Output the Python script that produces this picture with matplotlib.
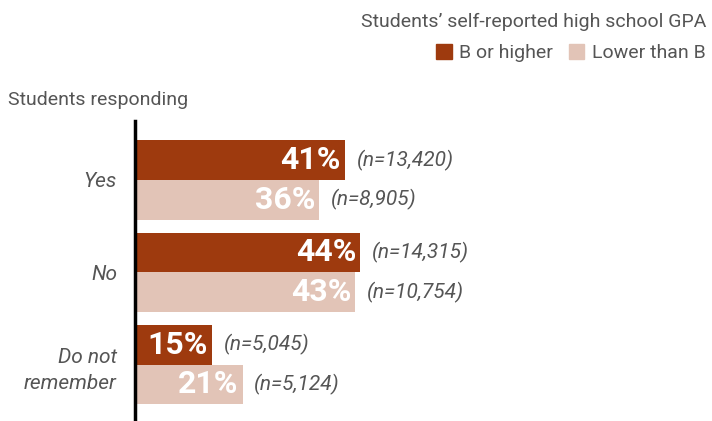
import matplotlib.pyplot as plt
from matplotlib import font_manager
from matplotlib.patches import Patch

# pick a narrow font if one is there
names = set(f.name for f in font_manager.fontManager.ttflist)
fam = 'Liberation Sans Narrow' if 'Liberation Sans Narrow' in names else 'Roboto'
plt.rcParams['font.family'] = [fam, 'DejaVu Sans']

categories = ['Yes', 'No', 'Do not\nremember']
high = [41, 44, 15]
low = [36, 43, 21]
n_high = ['13,420', '14,315', '5,045']
n_low = ['8,905', '10,754', '5,124']
series_names = ['B or higher', 'Lower than B']

dark = '#9E3A0E'
light = '#E2C4B7'
grey = '#555555'

fig = plt.figure(figsize=(7.12, 4.21), dpi=100)
ax = fig.add_axes([135 / 712, 0, 1 - 135 / 712, 1 - 121 / 421])

h = 0.43
pos = list(range(len(categories)))
ax.barh([p - h / 2 for p in pos], high, height=h, color=dark)
ax.barh([p + h / 2 for p in pos], low, height=h, color=light)

for i, p in enumerate(pos):
    for val, n, off in [(high[i], n_high[i], -h / 2), (low[i], n_low[i], h / 2)]:
        ax.text(val - 0.8, p + off, f'{val}%', ha='right', va='center',
                color='white', fontsize=23, fontweight='bold')
        ax.text(val + 2.3, p + off, f'(n={n})', ha='left', va='center',
                color=grey, fontsize=15, style='italic')

ax.set_xlim(0, 577 / 5.12)
ax.set_ylim(-0.639 + 3.25, -0.639)
ax.set_yticks(pos)
ax.set_yticklabels(categories, fontsize=15, style='italic', color=grey,
                   linespacing=1.5)
ax.tick_params(axis='y', length=0, pad=13)
ax.set_xticks([])
for s in ['top', 'right', 'bottom']:
    ax.spines[s].set_visible(False)
ax.spines['left'].set_linewidth(2.5)
ax.spines['left'].set_color('black')

fig.text(8 / 712, 1 - 100 / 421, 'Students responding', ha='left', va='center',
         fontsize=14, color=grey)
fig.text(706 / 712, 1 - 22 / 421, 'Students\u2019 self-reported high school GPA',
         ha='right', va='center', fontsize=14, color=grey)
fig.legend(handles=[Patch(color=dark), Patch(color=light)], labels=series_names,
           ncol=2, loc='center right', bbox_to_anchor=(706 / 712, 1 - 53 / 421),
           frameon=False, handlelength=0.8, handleheight=0.8, handletextpad=0.4,
           columnspacing=0.8, fontsize=14, labelcolor=grey,
           borderpad=0, borderaxespad=0)

fig.savefig('out.png', dpi=100)
